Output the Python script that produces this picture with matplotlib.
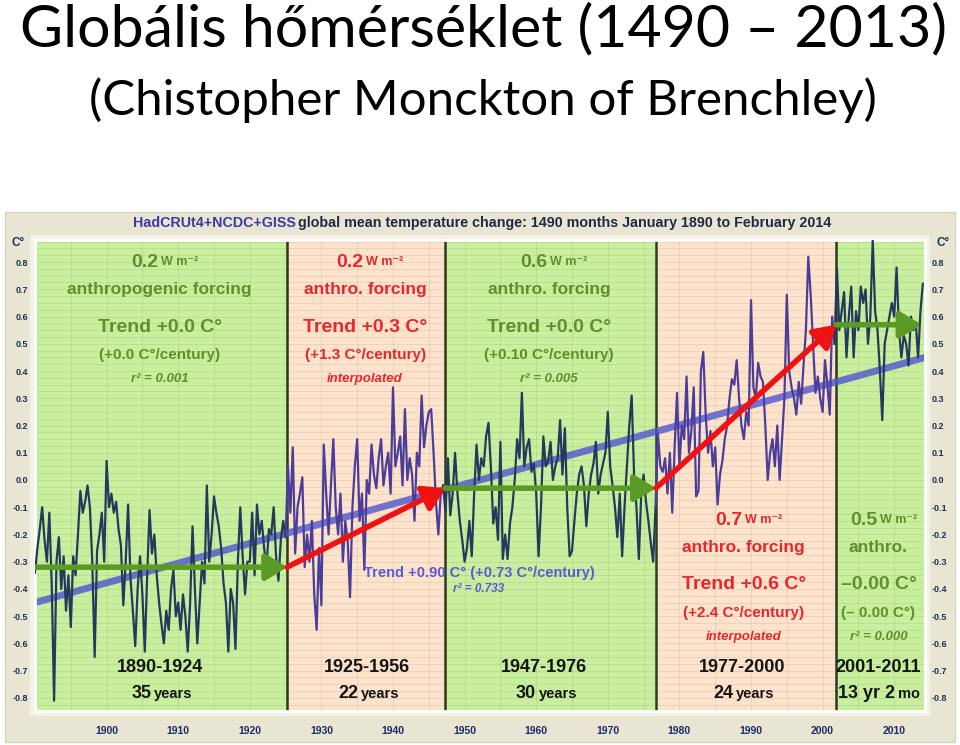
import matplotlib
matplotlib.use('Agg')
import matplotlib.pyplot as plt
import numpy as np
from matplotlib.patches import Rectangle, FancyArrowPatch

# monthly-ish global temperature anomaly (3 values per year from 1890)
start_year = 1890
temps = [
    -0.34, -0.25, -0.18,  -0.10, -0.22, -0.30,  -0.12, -0.38, -0.81,  -0.30, -0.21, -0.40,
    -0.28, -0.48, -0.35,  -0.54, -0.28, -0.35,  -0.20, -0.04, -0.12,  -0.08, -0.02, -0.10,
    -0.30, -0.65, -0.26,  -0.20, -0.12, -0.30,
    0.07, -0.10, -0.05,  -0.12, -0.08, -0.18,  -0.24, -0.46, -0.30,  -0.09, -0.36, -0.48,
    -0.61, -0.40, -0.28,  -0.42, -0.63, -0.35,  -0.11, -0.27, -0.20,  -0.35, -0.45, -0.53,
    -0.60, -0.48, -0.55,  -0.40, -0.33, -0.50,
    -0.45, -0.55, -0.42,  -0.50, -0.63, -0.45,  -0.17, -0.40, -0.60,  -0.45, -0.30, -0.38,
    -0.02, -0.30, -0.20,  -0.06, -0.12, -0.17,  -0.25, -0.38, -0.45,  -0.63, -0.40, -0.45,
    -0.62, -0.30, -0.10,  -0.28, -0.42, -0.30,
    -0.30, -0.12, -0.35,  -0.09, -0.20, -0.15,  -0.25, -0.32, -0.18,  -0.20, -0.10, -0.28,
    -0.37, -0.22, -0.15,  -0.21, 0.05, -0.12,  0.12, -0.27, -0.10,  -0.05, 0.01, -0.32,
    -0.20, -0.30, -0.15,  -0.42, -0.55, -0.25,
    -0.46, 0.13, -0.05,  -0.20, -0.02, 0.15,  -0.10, -0.20, -0.05,  -0.30, -0.15, -0.22,
    -0.43, -0.10, 0.05,  0.15, -0.15, -0.05,  -0.33, 0.00, -0.05,  0.13, 0.02, -0.03,
    0.08, 0.15, -0.02,  0.05, 0.10, -0.05,
    0.34, 0.05, 0.10,  0.16, -0.02, 0.26,  0.00, 0.08, 0.02,  -0.15, 0.10, 0.05,
    0.31, 0.12, 0.20,  0.25, 0.26, 0.10,  -0.08, -0.20, -0.05,  -0.02, -0.12, 0.08,
    -0.13, -0.05, 0.10,  -0.05, -0.15, -0.22,
    -0.30, -0.25, -0.15,  -0.28, -0.05, 0.13,  0.00, 0.08, 0.05,  0.16, 0.21, 0.05,
    -0.16, -0.10, -0.22,  0.14, -0.29, -0.20,  -0.29, -0.16, -0.10,  0.00, 0.15, 0.08,
    0.32, 0.05, 0.12,  0.15, 0.03, 0.06,
    -0.05, -0.28, -0.10,  0.16, 0.05, 0.07,  0.14, 0.00, 0.05,  0.08, 0.22, 0.02,
    0.19, -0.10, -0.28,  -0.26, -0.15, -0.05,  0.02, 0.05, -0.02,  -0.17, -0.05, 0.02,
    0.06, 0.14, -0.05,  0.02, 0.06, 0.10,
    0.25, 0.05, -0.02,  -0.10, -0.21, -0.05,  -0.28, -0.10, 0.05,  0.20, 0.31, 0.02,
    -0.10, -0.29, -0.05,  0.02, -0.08, -0.15,  -0.23, -0.30, -0.10,  0.17, 0.05, 0.03,
    0.08, -0.05, 0.10,  -0.12, 0.12, 0.32,
    0.05, 0.20, 0.15,  0.38, 0.10, 0.18,  0.34, -0.06, -0.04,  0.40, 0.47, 0.24,
    0.10, 0.18, 0.05,  0.12, -0.09, 0.02,  0.07, 0.15, 0.20,  0.30, 0.37, 0.35,
    0.44, 0.30, 0.20,  0.15, 0.25, 0.20,
    0.66, 0.34, 0.30,  0.43, 0.38, 0.36,  0.20, 0.00, 0.10,  0.15, 0.05, 0.20,
    0.00, 0.15, 0.30,  0.68, 0.40, 0.34,  0.30, 0.24, 0.36,  0.28, 0.42, 0.55,
    0.82, 0.68, 0.50,  0.32, 0.38, 0.30,
    0.25, 0.44, 0.35,  0.24, 0.60, 0.50,  0.78, 0.55, 0.62,  0.69, 0.45, 0.60,
    0.71, 0.45, 0.62,  0.55, 0.71, 0.65,  0.70, 0.50, 0.60,  0.88, 0.62, 0.55,
    0.40, 0.22, 0.50,  0.55, 0.60, 0.65,
    0.60, 0.78, 0.55,  0.45, 0.53, 0.50,  0.42, 0.60, 0.55,  0.58, 0.45, 0.62,
    0.72,
]
years = start_year + np.arange(len(temps)) / 3.0

# period bands and their flat / rising trend levels
band_edges = [1890, 1925.2, 1947.3, 1976.7, 2001.9, 2014.3]
band_kind = ['flat', 'rise', 'flat', 'rise', 'flat']
level_start = [-0.32, -0.32, -0.03, -0.03, 0.57]
level_end = [-0.32, -0.03, -0.03, 0.57, 0.57]
trend_all = [-0.45, 0.45]   # overall linear trend, 1890 -> 2014

period_labels = ['1890-1924', '1925-1956', '1947-1976', '1977-2000', '2001-2011']
period_lengths = [('35', 'years'), ('22', 'years'), ('30', 'years'), ('24', 'years'), ('13 yr 2', 'mo')]
forcing = ['0.2', '0.2', '0.6', '0.7', '0.5']
forcing_text = ['anthropogenic forcing', 'anthro. forcing', 'anthro. forcing', 'anthro. forcing', 'anthro.']
trend_text = ['Trend +0.0 C°', 'Trend +0.3 C°', 'Trend +0.0 C°', 'Trend +0.6 C°', '\u20130.00 C°']
rate_text = ['(+0.0 C°/century)', '(+1.3 C°/century)', '(+0.10 C°/century)', '(+2.4 C°/century)', '(\u2013 0.00 C°)']
note_text = ['r² = 0.001', 'interpolated', 'r² = 0.005', 'interpolated', 'r² = 0.000']

GREEN_BG = '#c8ef9e'
PEACH_BG = '#fde3cc'
GREEN_TXT = '#5f8f2c'
RED_TXT = '#e8262b'
NAVY = '#1f2f55'
NARROW = ['Liberation Sans', 'DejaVu Sans']
TITLE_FONT = ['Lato', 'DejaVu Sans']

W, H = 960, 745
fig = plt.figure(figsize=(9.6, 7.45), dpi=100)
fig.patch.set_facecolor('white')


def fx(px):
    return px / W


def fy(py):
    return 1 - py / H


# titles
fig.text(fx(483), fy(30), 'Globális hőmérséklet (1490 \u2013 2013)', fontsize=42.5,
         family=TITLE_FONT, ha='center', va='center', color='black')
fig.text(fx(483), fy(100), '(Chistopher Monckton of Brenchley)', fontsize=35.5,
         family=TITLE_FONT, ha='center', va='center', color='black')

# beige frame of the embedded chart
fig.patches.append(Rectangle((fx(5), fy(742)), fx(950), 530 / H, transform=fig.transFigure,
                             facecolor='#e8e5d2', edgecolor='#d8d4bf', lw=1, zorder=-2))
fig.patches.append(Rectangle((fx(30), fy(716)), fx(900), 481 / H, transform=fig.transFigure,
                             facecolor='#f4f2e6', edgecolor='none', zorder=-1))

fig.text(fx(133), fy(223), 'HadCRUt4+NCDC+GISS', fontsize=10.3, weight='bold',
         family=NARROW, color='#3b3ba8', ha='left', va='center')
fig.text(fx(298), fy(223), 'global mean temperature change: 1490 months January 1890 to February 2014',
         fontsize=10.3, weight='bold', family=NARROW, color='#1f2a4a', ha='left', va='center')
fig.text(fx(18), fy(243), 'C°', fontsize=8.5, weight='bold', family=NARROW, color=NAVY,
         ha='center', va='center')
fig.text(fx(943), fy(243), 'C°', fontsize=8.5, weight='bold', family=NARROW, color=NAVY,
         ha='center', va='center')

ax = fig.add_axes([fx(35), fy(711), 890 / W, 471 / H])
ax.set_zorder(2)
ax.set_xlim(band_edges[0], band_edges[-1])
ax.set_ylim(-0.848, 0.881)

for i in range(len(band_kind)):
    ax.axvspan(band_edges[i], band_edges[i + 1],
               color=GREEN_BG if band_kind[i] == 'flat' else PEACH_BG, zorder=0, lw=0)
for e in band_edges[1:-1]:
    ax.axvline(e, color='#2d3a20', lw=1.8, zorder=1)

# fine grid
for g in np.arange(-0.85, 0.89, 0.025):
    ax.axhline(g, color='black', alpha=0.08, lw=0.6, zorder=0.5)
for g in range(1895, 2014, 5):
    ax.axvline(g, color='black', alpha=0.07, lw=0.7, zorder=0.5)

# overall trend
ax.plot([band_edges[0], band_edges[-1]], trend_all, color='#4f56d0', lw=5, alpha=0.8,
        zorder=2, solid_capstyle='butt')

# temperature series, coloured per band
yrs = np.asarray(years)
tv = np.asarray(temps)
for i in range(len(band_kind)):
    m = (yrs >= band_edges[i] - 0.34) & (yrs <= band_edges[i + 1] + 0.01)
    ax.plot(yrs[m], tv[m], color='#243a5c' if band_kind[i] == 'flat' else '#4c3e98',
            lw=1.6, zorder=3)

# period arrows
for i in range(len(band_kind)):
    col = '#5b9a24' if band_kind[i] == 'flat' else '#f01212'
    x0 = band_edges[i]
    x1 = band_edges[i + 1] if i < len(band_kind) - 1 else 2013.8
    ax.add_patch(FancyArrowPatch((x0, level_start[i]), (x1, level_end[i]),
                                 arrowstyle='-|>,head_length=8,head_width=5', mutation_scale=1.6,
                                 color=col, lw=4, zorder=4, shrinkA=0, shrinkB=0))

# period annotations
upper = [True, True, True, False, False]
centers = [1907.4, 1936.1, 1961.8, 1989.0, 2007.8]
for i in range(len(band_kind)):
    col = GREEN_TXT if band_kind[i] == 'flat' else RED_TXT
    cx = centers[i]
    rows = [0.80, 0.70, 0.56, 0.46, 0.37] if upper[i] else [-0.147, -0.246, -0.385, -0.488, -0.576]
    ax.annotate(forcing[i], (cx, rows[0]), xytext=(-1, 0), textcoords='offset points',
                ha='right', va='center', fontsize=14, weight='bold', family=NARROW, color=col, zorder=5)
    ax.annotate('W m\u207b\u00b2', (cx, rows[0]), xytext=(1, 0), textcoords='offset points',
                ha='left', va='center', fontsize=9, weight='bold', family=NARROW, color=col, zorder=5)
    ax.text(cx, rows[1], forcing_text[i], ha='center', va='center', fontsize=12.5,
            weight='bold', family=NARROW, color=col, zorder=5)
    ax.text(cx, rows[2], trend_text[i], ha='center', va='center', fontsize=14,
            weight='bold', family=NARROW, color=col, zorder=5)
    ax.text(cx, rows[3], rate_text[i], ha='center', va='center', fontsize=11,
            weight='bold', family=NARROW, color=col, zorder=5)
    ax.text(cx, rows[4], note_text[i], ha='center', va='center', fontsize=9.5,
            weight='bold', style='italic', family=NARROW, color=col, zorder=5)

bottom_centers = [1907.4, 1936.3, 1961.1, 1988.7, 2007.8]
for i in range(len(period_labels)):
    ax.text(bottom_centers[i], -0.69, period_labels[i], ha='center', va='center', fontsize=13,
            weight='bold', family=NARROW, color='#151515', zorder=5)
    big, small = period_lengths[i]
    ax.annotate(big, (bottom_centers[i], -0.785), xytext=(-6 if i < 4 else 12, 0),
                textcoords='offset points', ha='right', va='center', fontsize=13,
                weight='bold', family=NARROW, color='#151515', zorder=5)
    ax.annotate(small, (bottom_centers[i], -0.785), xytext=(-4 if i < 4 else 14, 0),
                textcoords='offset points', ha='left', va='center', fontsize=10.5,
                weight='bold', family=NARROW, color='#151515', zorder=5)

ax.text(1952.0, -0.34, 'Trend +0.90 C° (+0.73 C°/century)', ha='center', va='center',
        fontsize=10.5, weight='bold', family=NARROW, color='#5a5ad8', zorder=5)
ax.text(1952.0, -0.40, 'r² = 0.733', ha='center', va='center', fontsize=8.5,
        weight='bold', style='italic', family=NARROW, color='#5a5ad8', zorder=5)

yt = np.round(np.arange(-0.8, 0.81, 0.1), 1)
ax.set_yticks(yt)
ax.set_yticklabels(['0.0' if abs(v) < 1e-9 else f'{v:.1f}' for v in yt],
                   fontsize=6.5, weight='bold', color=NAVY, family=NARROW)
ax.set_xticks(range(1900, 2011, 10))
ax.set_xticklabels([str(y) for y in range(1900, 2011, 10)], fontsize=7.5, weight='bold',
                   color='#1d2a6a', family=NARROW)
ax.tick_params(axis='y', length=0, pad=5, labelright=True, right=False)
ax.tick_params(axis='x', length=0, pad=11)
for s in ax.spines.values():
    s.set_color('white')
    s.set_linewidth(2)

fig.savefig('out.png', dpi=100, facecolor='white')
